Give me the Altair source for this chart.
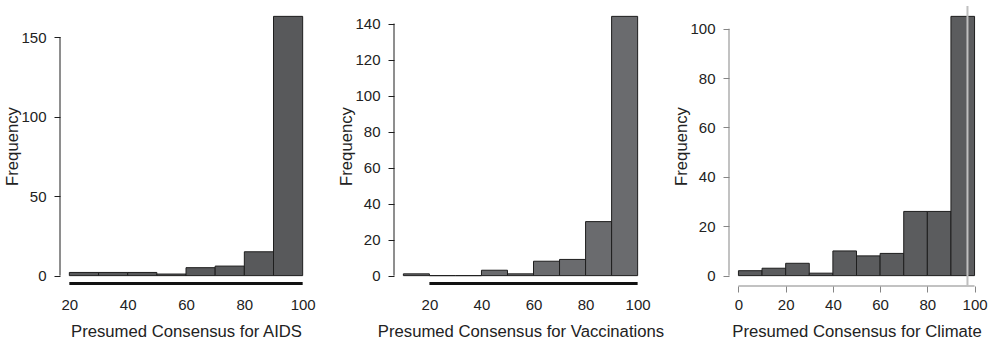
import altair as alt
import pandas as pd

# ---- data ----
aids_edges = [20, 30, 40, 50, 60, 70, 80, 90, 100]
aids_counts = [2, 2, 2, 1, 5, 6, 15, 163]

vacc_edges = [10, 20, 30, 40, 50, 60, 70, 80, 90, 100]
vacc_counts = [1, 0, 0, 3, 1, 8, 9, 30, 144]

clim_edges = [0, 10, 20, 30, 40, 50, 60, 70, 80, 90, 100]
clim_counts = [2, 3, 5, 1, 10, 8, 9, 26, 26, 105]
clim_ref = 97

aids_xticks = [20, 40, 60, 80, 100]
vacc_xticks = [20, 40, 60, 80, 100]
clim_xticks = [0, 20, 40, 60, 80, 100]

aids_yticks = [0, 50, 100, 150]
vacc_yticks = [0, 20, 40, 60, 80, 100, 120, 140]
clim_yticks = [0, 20, 40, 60, 80, 100]

FONT = "Liberation Sans"
TXT = "#222222"
H = 280


def panel(edges, counts, title, xticks, yticks, xline, bar_color, axis_color,
          thick_x, width, ref=None):
    df = pd.DataFrame({"lo": edges[:-1], "hi": edges[1:], "n": counts})
    span = edges[-1] - edges[0]
    xs = alt.Scale(domain=[edges[0] - 0.04 * span, edges[-1] + 0.04 * span],
                   nice=False, zero=False)
    m = max(counts)
    ys = alt.Scale(domain=[-0.04 * m, 1.04 * m], nice=False, zero=False)

    tick_col = axis_color if not thick_x else "transparent"
    bars = alt.Chart(df).mark_bar(color=bar_color, stroke="#1e1e1e",
                                  strokeWidth=1).encode(
        x=alt.X("lo:Q", scale=xs, axis=alt.Axis(
            values=xticks, domain=False, grid=False, tickSize=6,
            tickColor=tick_col, labelFontSize=15, labelColor=TXT,
            labelFont=FONT, labelBaseline="alphabetic", labelPadding=17,
            labelFlush=False, labelOverlap=False,
            title=title, titleFont=FONT, titleFontSize=16.7,
            titleFontWeight="normal", titleColor=TXT,
            titleBaseline="alphabetic", titleY=50)),
        x2="hi:Q",
        y=alt.Y("n:Q", scale=ys, axis=alt.Axis(
            values=yticks, domain=False, grid=False, tickSize=6,
            tickColor=axis_color, labelFontSize=15, labelColor=TXT,
            labelFont=FONT, labelPadding=8, labelFlush=False,
            labelOverlap=False,
            title="Frequency", titleFont=FONT, titleFontSize=16.7,
            titleFontWeight="normal", titleColor=TXT,
            titleBaseline="alphabetic", titleX=-43, titleY=H / 2,
            titleAlign="center", titleAngle=270)),
        y2=alt.datum(0),
    )

    ydf = pd.DataFrame({"a": [yticks[0]], "b": [yticks[-1]]})
    yline = alt.Chart(ydf).mark_rule(color=axis_color, strokeWidth=1).encode(
        x=alt.value(0),
        y=alt.Y("a:Q", scale=ys, axis=None),
        y2="b:Q",
    )
    xdf = pd.DataFrame({"a": [xline[0]], "b": [xline[1]]})
    if thick_x:
        xaxis_line = alt.Chart(xdf).mark_rule(color="#111111", strokeWidth=3).encode(
            x=alt.X("a:Q", scale=xs, axis=None), x2="b:Q", y=alt.value(H - 2.5))
    else:
        xaxis_line = alt.Chart(xdf).mark_rule(color=axis_color, strokeWidth=1).encode(
            x=alt.X("a:Q", scale=xs, axis=None), x2="b:Q", y=alt.value(H))

    layers = [bars, yline, xaxis_line]
    if ref is not None:
        rdf = pd.DataFrame({"v": [ref]})
        refline = alt.Chart(rdf).mark_rule(color="#bfbfbf", strokeWidth=2).encode(
            x=alt.X("v:Q", scale=xs, axis=None))
        layers.append(refline)
    return alt.layer(*layers).resolve_axis(
        x="independent", y="independent"
    ).properties(width=width, height=H)


p1 = panel(aids_edges, aids_counts, "Presumed Consensus for AIDS",
           aids_xticks, aids_yticks, [20, 100], "#58595b", "#1e1e1e", True, 252)
p2 = panel(vacc_edges, vacc_counts, "Presumed Consensus for Vaccinations",
           vacc_xticks, vacc_yticks, [20, 100], "#6a6b6e", "#1e1e1e", True, 253)
p3 = panel(clim_edges, clim_counts, "Presumed Consensus for Climate",
           clim_xticks, clim_yticks, [0, 100], "#5b5c5e", "#858585", False, 255,
           ref=clim_ref)

chart = alt.hconcat(p1, p2, p3, spacing=82, bounds="flush").configure_view(
    stroke=None
).properties(
    padding={"left": 4, "top": 5, "right": 0, "bottom": 0},
    background="white",
)

chart.save("out.html", embed_options={"renderer": "svg", "actions": False})
